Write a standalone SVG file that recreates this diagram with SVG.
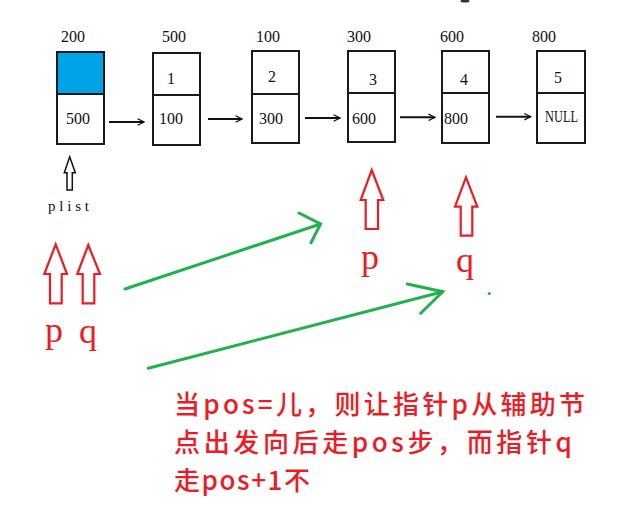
<svg xmlns="http://www.w3.org/2000/svg" width="639" height="527" viewBox="0 0 639 527">
<defs>
<style>
.box{fill:#fff;stroke:#1a1a1a;stroke-width:2}
.lbl{font-family:"Liberation Serif","Noto Sans CJK SC",serif;font-size:16px;fill:#111}
.val{font-family:"Liberation Serif","Noto Sans CJK SC",serif;font-size:16px;fill:#111}
.link{stroke:#111;stroke-width:2;fill:none}
.hollow{fill:#fff;stroke:#ed1c24;stroke-width:2.2;stroke-linejoin:miter}
.ptr{font-family:"Liberation Serif",serif;font-size:36px;fill:#ed1c24}
.green{stroke:#22b14c;stroke-width:3;fill:none;stroke-linecap:round}
.note{font-family:"Noto Sans CJK SC","Liberation Serif",sans-serif;font-size:26px;font-weight:500;fill:#ed1c24}
</style>
<marker id="ah" viewBox="0 0 10 10" refX="9" refY="5" markerWidth="8" markerHeight="8" orient="auto" markerUnits="userSpaceOnUse">
<path d="M1,1 L9,5 L1,9" fill="none" stroke="#111" stroke-width="1.5"/>
</marker>
</defs>
<rect width="639" height="527" fill="#fff"/>
<ellipse cx="465" cy="1" rx="4.5" ry="1.5" fill="#333"/>

<g id="node200">
<rect class="box" x="57" y="52" width="47" height="92"/>
<rect x="58" y="53" width="45" height="41" fill="#00a2e8"/>
<line x1="57" y1="94" x2="104" y2="94" stroke="#1a1a1a" stroke-width="2"/>
<text class="lbl" x="61" y="42">200</text>
<text class="val" x="66" y="124">500</text>
</g>
<g id="node500">
<rect class="box" x="153" y="53" width="47" height="92"/>
<line x1="153" y1="95" x2="200" y2="95" stroke="#1a1a1a" stroke-width="2"/>
<text class="lbl" x="162" y="42">500</text>
<text class="val" x="167" y="84">1</text>
<text class="val" x="159" y="124">100</text>
</g>
<g id="node100">
<rect class="box" x="252" y="51" width="47" height="92"/>
<line x1="252" y1="94" x2="299" y2="94" stroke="#1a1a1a" stroke-width="2"/>
<text class="lbl" x="256" y="42">100</text>
<text class="val" x="268" y="82">2</text>
<text class="val" x="259" y="124">300</text>
</g>
<g id="node300">
<rect class="box" x="348" y="51" width="47" height="91"/>
<line x1="348" y1="93" x2="395" y2="93" stroke="#1a1a1a" stroke-width="2"/>
<text class="lbl" x="347" y="42">300</text>
<text class="val" x="369" y="85">3</text>
<text class="val" x="352" y="124">600</text>
</g>
<g id="node600">
<rect class="box" x="442" y="51" width="47" height="92"/>
<line x1="442" y1="93" x2="489" y2="93" stroke="#1a1a1a" stroke-width="2"/>
<text class="lbl" x="440" y="42">600</text>
<text class="val" x="460" y="85">4</text>
<text class="val" x="444" y="124">800</text>
</g>
<g id="node800">
<rect class="box" x="537" y="51" width="48" height="92"/>
<line x1="537" y1="93" x2="585" y2="93" stroke="#1a1a1a" stroke-width="2"/>
<text class="lbl" x="532" y="42">800</text>
<text class="val" x="554" y="83">5</text>
<text class="val" x="545" y="121.5" font-size="13" textLength="33" lengthAdjust="spacingAndGlyphs">NULL</text>
</g>

<g id="plist">
<path d="M69.7,156.7 L75.3,172.7 L72.3,172.7 L72.3,190 L67,190 L67,172.7 L64.3,172.7 Z" fill="#fff" stroke="#111" stroke-width="1.5"/>
<text x="48" y="210.5" font-family="Liberation Serif,serif" font-size="15" fill="#111" textLength="41" lengthAdjust="spacing">plist</text>
</g>

<g id="pointer-p-left">
<path class="hollow" d="M55.7,244.3 L67,274 L61.7,274 L61.7,303.3 L50,303.3 L50,274 L44.3,274 Z"/>
<text class="ptr" x="45" y="342">p</text>
</g>
<g id="pointer-q-left">
<path class="hollow" d="M88.3,245 L100,274 L94.3,274 L94.3,303.3 L82.7,303.3 L82.7,274 L77.3,274 Z"/>
<text class="ptr" x="79" y="343">q</text>
</g>
<g id="pointer-p">
<path class="hollow" d="M371.7,170 L383.3,200 L378,200 L378,229 L365.7,229 L365.7,200 L360.7,200 Z"/>
<text class="ptr" x="361" y="269">p</text>
</g>
<g id="pointer-q">
<path class="hollow" d="M466,177.3 L477.3,206.7 L472.3,206.7 L472.3,235.7 L460.7,235.7 L460.7,206.7 L455,206.7 Z"/>
<text class="ptr" x="456" y="272">q</text>
</g>

<g id="connectors">
<line class="link" x1="109" y1="122" x2="144" y2="122" marker-end="url(#ah)"/>
<line class="link" x1="208" y1="119" x2="242" y2="119" marker-end="url(#ah)"/>
<line class="link" x1="305" y1="118" x2="340" y2="118" marker-end="url(#ah)"/>
<line class="link" x1="400" y1="117.3" x2="435" y2="117.3" marker-end="url(#ah)"/>
<line class="link" x1="496" y1="116.7" x2="530.7" y2="116.7" marker-end="url(#ah)"/>
<path class="green" d="M125,289 L320.5,224 M299,213 L320.5,224 L311,242.7"/>
<path class="green" d="M148.3,368.3 L442.7,291.7 M407.3,284 L442.7,291.7 L420.7,313.3"/>
<circle cx="489.3" cy="293.5" r="1.6" fill="#22b14c"/>
</g>

<g id="note">
<text class="note" x="174" y="414" textLength="411" lengthAdjust="spacing">当pos=儿，则让指针p从辅助节</text>
<text class="note" x="174" y="452" textLength="398" lengthAdjust="spacing">点出发向后走pos步，而指针q</text>
<text class="note" x="174" y="490" textLength="136" lengthAdjust="spacing">走pos+1不</text>
</g>
</svg>
